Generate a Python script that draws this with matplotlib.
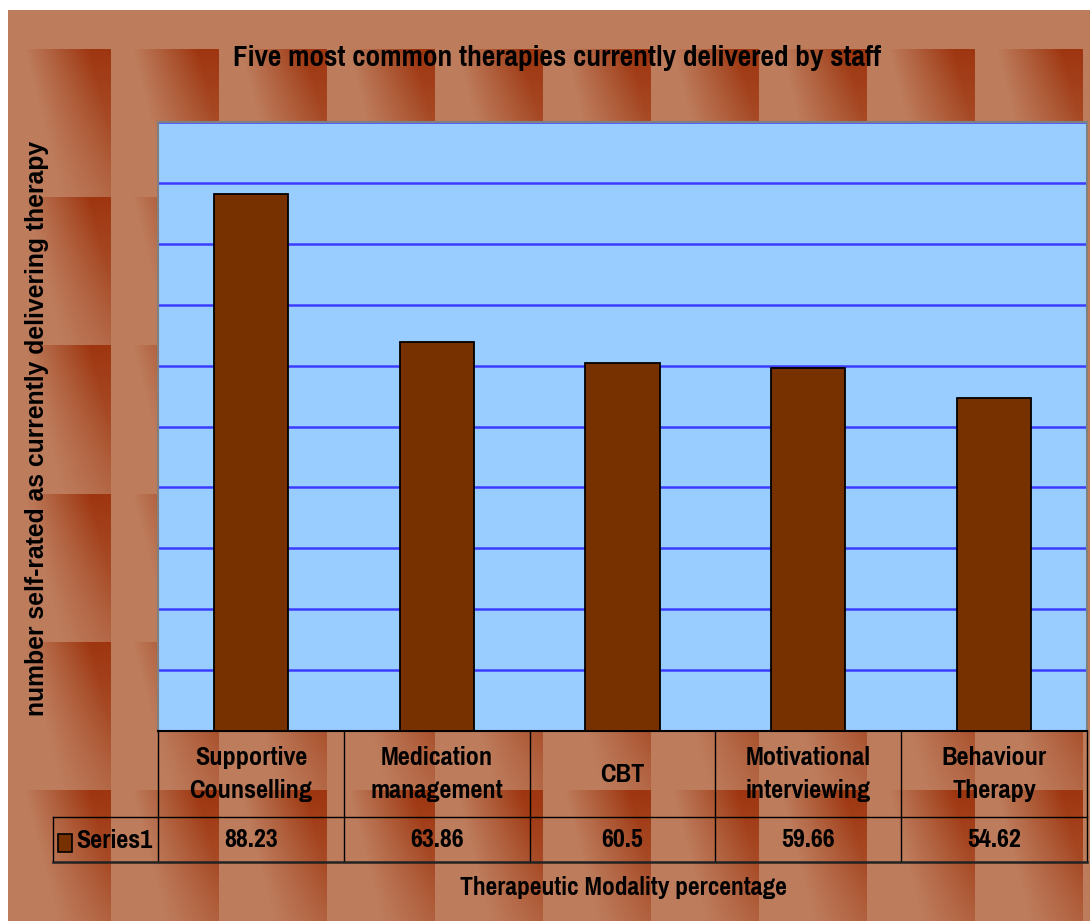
import numpy as np
import matplotlib
matplotlib.use("Agg")
import matplotlib.pyplot as plt
from matplotlib.patches import Rectangle
from matplotlib.transforms import blended_transform_factory
from matplotlib import font_manager

# donnees du graphique
therapies = ["Supportive\nCounselling", "Medication\nmanagement", "CBT",
             "Motivational\ninterviewing", "Behaviour\nTherapy"]
percent = [88.23, 63.86, 60.5, 59.66, 54.62]
value_labels = ["88.23", "63.86", "60.5", "59.66", "54.62"]
series_name = "Series1"
grid_values = [0, 10, 20, 30, 40, 50, 60, 70, 80, 90, 100]

W, H = 1090, 921


def fx(px):
    return px / W


def fy(py):
    return 1 - py / H


# police etroite facon Arial Narrow, si disponible
noms = set(f.name for f in font_manager.fontManager.ttflist)
narrow = "Liberation Sans"
for nom in ["Liberation Sans Narrow", "Arial Narrow", "Pragati Narrow",
            "Roboto Condensed", "Archivo Narrow", "PT Sans Narrow"]:
    if nom in noms:
        narrow = nom
        break
print("police etroite :", narrow)

fig = plt.figure(figsize=(W / 100, H / 100), dpi=100)
fig.patch.set_facecolor("white")

# fond texture (tuiles brunes facon Excel)
tw, th = W - 8, H - 10
X = np.arange(tw)[None, :] + 8
Y = np.arange(th)[:, None] + 10
u = ((X - 3) % 108) / 108.0
v = ((Y - 50) % 148) / 148.0
d = np.clip((u - 0.2 - 0.35 * v) / 0.6, 0, 1) * (1 - 0.6 * v)
d = np.where(Y < 50, 0.0, d)
base = np.array([189, 124, 92]) / 255.0
dark = np.array([158, 54, 16]) / 255.0
tex = base[None, None, :] + d[:, :, None] * (dark - base)[None, None, :]

bg = fig.add_axes([fx(8), 0, 1 - fx(8), 1 - 10 / H])
bg.imshow(tex, aspect="auto", interpolation="nearest")
bg.axis("off")

# zone du graphique
ax = fig.add_axes([fx(158), fy(731), fx(1087) - fx(158), fy(122) - fy(731)])
ax.set_facecolor("#99ccff")
x = np.arange(len(percent))
ax.bar(x, percent, width=0.4, color="#773000", edgecolor="black", linewidth=1.3, zorder=3)
ax.set_xlim(-0.5, len(percent) - 0.5)
ax.set_ylim(0, 100)
ax.set_yticks(grid_values)
ax.yaxis.grid(True, color="#3c3cff", linewidth=1.8, zorder=1)
ax.set_axisbelow(True)
ax.tick_params(left=False, labelleft=False, bottom=False, labelbottom=False)
for s in ["left", "right", "top"]:
    ax.spines[s].set_color("#808080")
    ax.spines[s].set_linewidth(1.5)
ax.spines["bottom"].set_color("black")
ax.spines["bottom"].set_linewidth(1.5)

# tableau de donnees sous l'axe
trans = blended_transform_factory(ax.transData, ax.transAxes)
r1 = (731 - 817) / 609.0
r2 = (731 - 862) / 609.0
x_leg = -0.5 - (158 - 53) / (929 / 5.0)
for k in range(len(percent) + 1):
    ax.plot([k - 0.5, k - 0.5], [0, r2], color="black", lw=1.0, transform=trans, clip_on=False)
ax.plot([x_leg, x_leg], [r1, r2], color="black", lw=1.0, transform=trans, clip_on=False)
ax.plot([x_leg, len(percent) - 0.5], [r1, r1], color="black", lw=1.0, transform=trans, clip_on=False)
ax.plot([x_leg, len(percent) - 0.5], [r2, r2], color="#222222", lw=1.8, transform=trans, clip_on=False)

taille = 20.5
for i in range(len(percent)):
    ax.text(i, r1 / 2, therapies[i], transform=trans, ha="center", va="center",
            fontsize=taille, fontweight="bold", family=narrow, linespacing=1.5)
    ax.text(i, (r1 + r2) / 2, value_labels[i], transform=trans, ha="center", va="center",
            fontsize=taille, fontweight="bold", family=narrow)

fig.add_artist(Rectangle((fx(58), fy(852)), fx(72) - fx(58), fy(834) - fy(852),
                         facecolor="#773000", edgecolor="black", lw=1.2,
                         transform=fig.transFigure))
fig.text(fx(76), fy(840), series_name, ha="left", va="center", fontsize=taille,
         fontweight="bold", family=narrow)

# titres
fig.text(fx(557), fy(58), "Five most common therapies currently delivered by staff",
         ha="center", va="center", fontsize=23, fontweight="bold", family=narrow)
fig.text(fx(623), fy(887), "Therapeutic Modality percentage", ha="center", va="center",
         fontsize=20, fontweight="bold", family=narrow)
fig.text(fx(37), fy(428), "number self-rated as currently delivering therapy",
         ha="center", va="center", rotation=90, fontsize=17.8, fontweight="bold",
         family="Liberation Sans")

fig.savefig("out.png", dpi=100)
